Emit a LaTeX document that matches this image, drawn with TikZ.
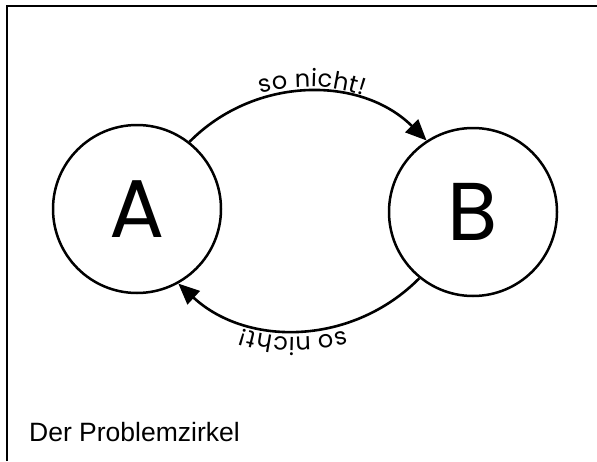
\documentclass[tikz,border=0pt]{standalone}
\usepackage{fontspec}
\setmainfont{Liberation Sans}
\newfontfamily\circfont{Poppins}
\usepackage{tikz}
\usetikzlibrary{arrows.meta,decorations.text}
\newcommand{\labelfont}{\circfont\fontsize{24}{24}\selectfont}

\begin{document}
\begin{tikzpicture}[x=1pt,y=-1pt,>={Triangle[length=21pt,width=18pt]}]
    \tikzstyle{state}=[draw=black, line width=2.5pt, circle, minimum size=168pt, inner sep=0pt, font=\circfont\fontsize{82}{82}\selectfont]
    \tikzstyle{loopedge}=[->, line width=2.6pt]
    \tikzstyle{frame}=[line width=2pt]

    \useasboundingbox (0,0) rectangle (597,461);
    \draw[frame] (7,461) -- (7,6) -- (597,6);

    \node[state] (A) at (137,209) {A};
    \node[state] (B) at (473,212) {B};
    \node[anchor=base west, font=\fontsize{26.5}{26.5}\selectfont, inner sep=0pt] (cap) at (29,441) {Der Problemzirkel};
    \path
     (A.52)  edge[loopedge, bend left=45, postaction={decorate, decoration={text along path, text={|\labelfont|so nicht!}, text align={center, left indent=8pt}, raise=5pt}}] (B.123)
     (B.231) edge[loopedge, bend left=44, postaction={decorate, decoration={text along path, text={|\labelfont|so nicht!}, text align={center, left indent=12pt}, raise=7pt}}] (A.299)
     ;
  \end{tikzpicture}
\end{document}
